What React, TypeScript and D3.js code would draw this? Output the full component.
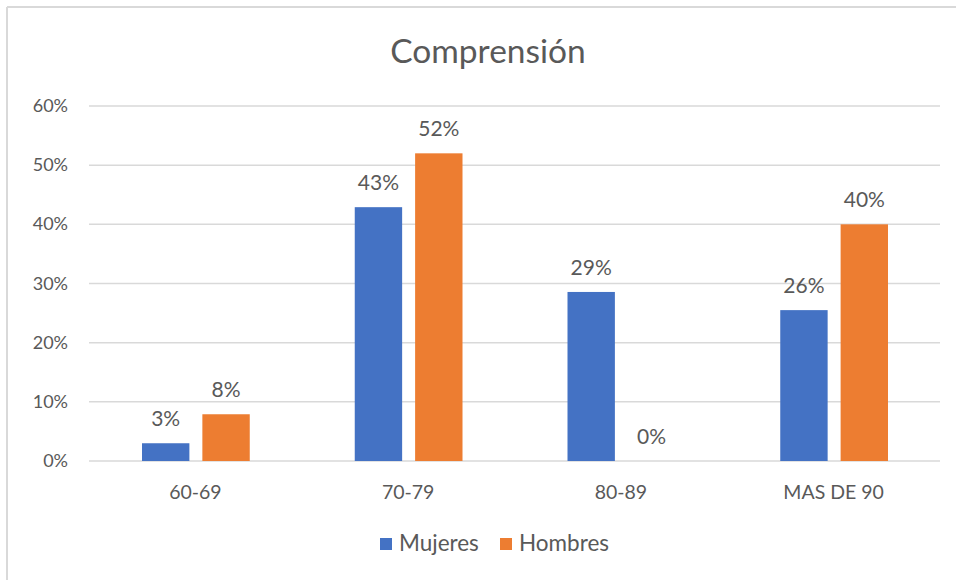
import { useEffect, useRef } from "react";
import * as d3 from "d3";

const CATEGORIES = ["60-69", "70-79", "80-89", "MAS DE 90"];
const SERIES = ["Mujeres", "Hombres"];
const MUJERES = [0.03, 0.429, 0.2857, 0.255];
const HOMBRES = [0.079, 0.52, 0, 0.4];
const Y_TICKS = [0, 0.1, 0.2, 0.3, 0.4, 0.5, 0.6];
const COLORS = ["#4472C4", "#ED7D31"];

const W = 956;
const H = 580;
const FONT = "Lato, 'Open Sans', sans-serif";
const GREY = "#595959";

export default function App() {
  const svgRef = useRef<SVGSVGElement>(null);

  useEffect(() => {
    if (!svgRef.current) return;
    const svg = d3.select(svgRef.current);
    svg.selectAll("*").remove();

    // chart frame: only top + left edge show in the screenshot
    svg.append("line").attr("x1", 7).attr("x2", W).attr("y1", 7).attr("y2", 7)
      .attr("stroke", "#d9d9d9").attr("stroke-width", 2);
    svg.append("line").attr("x1", 7).attr("x2", 7).attr("y1", 7).attr("y2", H)
      .attr("stroke", "#d9d9d9").attr("stroke-width", 2);

    const x = d3.scaleBand().domain(CATEGORIES).range([89, 940]);
    const y = d3.scaleLinear().domain([0, 0.6]).range([461, 106]);
    const inner = d3.scaleBand().domain(SERIES)
      .range([53, x.bandwidth() - 52])
      .paddingInner(0.215);

    svg.append("text")
      .attr("x", 488).attr("y", 63)
      .attr("text-anchor", "middle")
      .attr("fill", GREY)
      .attr("font-size", 33.5)
      .attr("font-family", FONT)
      .text("Comprensión");

    // gridlines + y labels
    Y_TICKS.forEach((t) => {
      svg.append("line")
        .attr("x1", 89).attr("x2", 940)
        .attr("y1", y(t)).attr("y2", y(t))
        .attr("stroke", "#d9d9d9").attr("stroke-width", 1.5);
      svg.append("text")
        .attr("x", 68).attr("y", y(t) + 6)
        .attr("text-anchor", "end")
        .attr("fill", GREY)
        .attr("font-size", 18)
        .attr("font-family", FONT)
        .text(d3.format(".0%")(t));
    });

    const data = [MUJERES, HOMBRES];
    SERIES.forEach((s, si) => {
      CATEGORIES.forEach((c, ci) => {
        const v = data[si][ci];
        const bx = (x(c) ?? 0) + (inner(s) ?? 0);
        svg.append("rect")
          .attr("x", bx).attr("y", y(v))
          .attr("width", inner.bandwidth())
          .attr("height", y(0) - y(v))
          .attr("fill", COLORS[si]);
        svg.append("text")
          .attr("x", bx + inner.bandwidth() / 2)
          .attr("y", y(v) - 17)
          .attr("text-anchor", "middle")
          .attr("fill", GREY)
          .attr("font-size", 21)
          .attr("font-family", FONT)
          .text(d3.format(".0%")(v));
      });
    });

    // category labels
    CATEGORIES.forEach((c) => {
      svg.append("text")
        .attr("x", (x(c) ?? 0) + x.bandwidth() / 2)
        .attr("y", 499)
        .attr("text-anchor", "middle")
        .attr("fill", GREY)
        .attr("font-size", 19.5)
        .attr("font-family", FONT)
        .text(c);
    });

    // legend
    const legendX = [380, 500];
    SERIES.forEach((s, i) => {
      svg.append("rect")
        .attr("x", legendX[i]).attr("y", 538)
        .attr("width", 12).attr("height", 12)
        .attr("fill", COLORS[i]);
      svg.append("text")
        .attr("x", legendX[i] + 19).attr("y", 551)
        .attr("fill", GREY)
        .attr("font-size", 22.5)
        .attr("font-family", FONT)
        .text(s);
    });
  }, []);

  return (
    <svg
      ref={svgRef}
      width={W}
      height={H}
      style={{ position: "absolute", left: 0, top: 0, background: "#fff" }}
    />
  );
}
